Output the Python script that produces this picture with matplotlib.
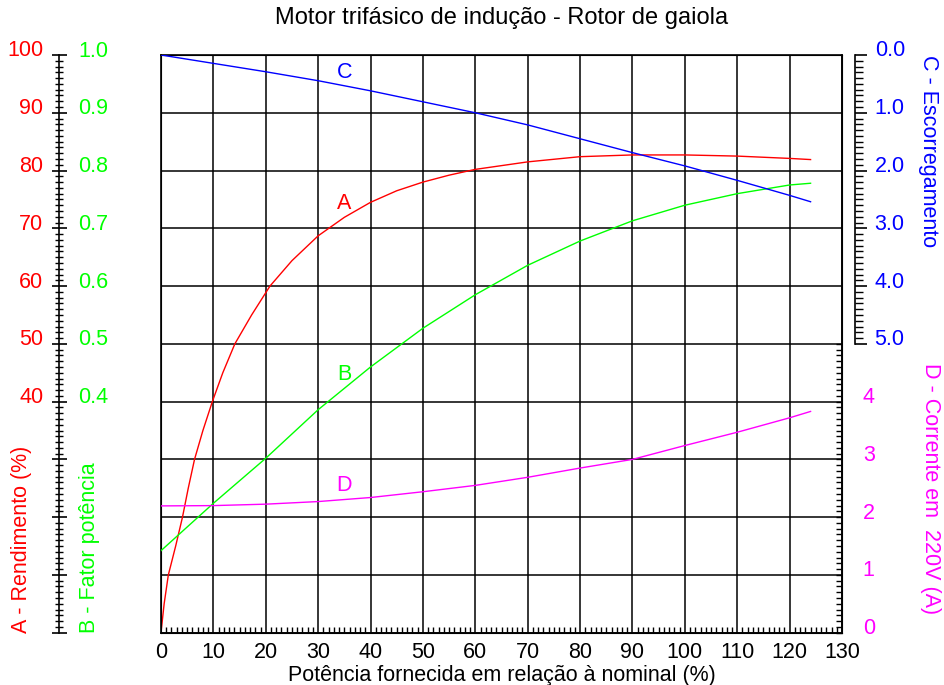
import matplotlib
matplotlib.use('Agg')
import matplotlib.pyplot as plt
from matplotlib.ticker import MultipleLocator, FormatStrFormatter
from matplotlib.transforms import ScaledTranslation

plt.rcParams['font.family'] = ['Liberation Sans', 'DejaVu Sans']

# curve A - efficiency (%)
pot_a = [0, 0.6, 1.4, 2.8, 4.1, 5.2, 6.4, 8.0, 9.8, 11.8, 14.1, 17.3, 20.8,
         25, 30, 35, 40, 45, 50, 55, 60, 70, 80, 90, 100, 110, 120, 124]
rendimento = [0, 5, 10, 15, 20, 25, 30, 35, 40, 45, 50, 55, 60, 64.4, 68.7,
              71.9, 74.5, 76.5, 78, 79.2, 80.2, 81.5, 82.4, 82.7, 82.7, 82.5,
              82.1, 81.9]

# curves B, C, D share the same abscissa
pot = [0, 10, 20, 30, 40, 50, 60, 70, 80, 90, 100, 110, 120, 124]
fator_pot = [0.142, 0.224, 0.302, 0.386, 0.46, 0.527, 0.585, 0.636, 0.678,
             0.713, 0.74, 0.76, 0.775, 0.778]
escorregamento = [0, 0.145, 0.29, 0.445, 0.62, 0.81, 1.0, 1.21, 1.45, 1.69,
                  1.92, 2.17, 2.43, 2.54]
corrente = [2.195, 2.2, 2.225, 2.27, 2.34, 2.44, 2.55, 2.69, 2.85, 3.0, 3.24,
            3.47, 3.72, 3.83]

x_ticks = list(range(0, 131, 10))
a_ticks = list(range(0, 101, 10))
a_labels = ['', '', '', '', '40', '50', '60', '70', '80', '90', '100']
b_ticks = [0.0, 0.1, 0.2, 0.3, 0.4, 0.5, 0.6, 0.7, 0.8, 0.9, 1.0]
b_labels = ['', '', '', '', '0.4', '0.5', '0.6', '0.7', '0.8', '0.9', '1.0']
c_ticks = [0, 1, 2, 3, 4, 5]
d_ticks = [0, 1, 2, 3, 4]

RED = '#ff0000'
GREEN = '#00ff00'
BLUE = '#0000ff'
MAG = '#ff00ff'
fs = 15.5
lw = 1.0

W_PX, H_PX = 944, 685
left, right, top, bottom = 161, 842, 55, 632.7
L = left / W_PX
B = (H_PX - bottom) / H_PX
W = (right - left) / W_PX
H = (bottom - top) / H_PX

fig = plt.figure(figsize=(W_PX / 100, H_PX / 100), dpi=100)


def lift_labels(axis, px):
    # tick labels in the original sit a few pixels above their ticks
    off = ScaledTranslation(0, px / 100, fig.dpi_scale_trans)
    for t in axis.get_major_ticks():
        t.label1.set_transform(t.label1.get_transform() + off)
        t.label2.set_transform(t.label2.get_transform() + off)


# main plot area with grid
ax = fig.add_axes([L, B, W, H])
ax.set_xlim(0, 130)
ax.set_ylim(0, 100)
ax.set_xticks(x_ticks)
ax.xaxis.set_minor_locator(MultipleLocator(1))
ax.set_yticks(a_ticks)
ax.tick_params(axis='x', which='major', direction='in', length=0, pad=7,
               labelsize=fs)
ax.tick_params(axis='x', which='minor', direction='in', length=4.5, width=1)
ax.tick_params(axis='y', which='both', length=0, labelleft=False)
ax.grid(True, color='black', linewidth=1.1)
for s in ax.spines.values():
    s.set_linewidth(1.2)
ax.set_xlabel('Potência fornecida em relação à nominal (%)', fontsize=fs,
              labelpad=1)
ax.plot(pot_a, rendimento, color=RED, linewidth=lw, zorder=5)
ax.text(35, 74.3, 'A', color=RED, fontsize=fs, ha='center', va='center')

# power factor curve on its own 0..1 scale over the plot
axBp = ax.twinx()
axBp.set_ylim(0, 1)
axBp.tick_params(axis='y', which='both', right=False, labelright=False)
axBp.plot(pot, fator_pot, color=GREEN, linewidth=lw, zorder=5)
axBp.text(35, 0.447, 'B', color=GREEN, fontsize=fs, ha='center',
          va='center')

# left scale: thin axes, A (red) ticks/labels left, B (green) right
axA = fig.add_axes([59 / W_PX, B, 0.0001, H])
axA.patch.set_visible(False)
axA.set_xticks([])
axA.set_ylim(0, 100)
axA.set_yticks(a_ticks, labels=a_labels)
axA.yaxis.set_minor_locator(MultipleLocator(1))
for s in ['top', 'bottom', 'right']:
    axA.spines[s].set_visible(False)
axA.spines['left'].set_linewidth(1.2)
axA.tick_params(axis='y', which='major', direction='out', length=5.4,
                width=1.2, pad=6, labelsize=fs, labelcolor=RED)
axA.tick_params(axis='y', which='minor', direction='out', length=2.6,
                width=1)

axB = axA.twinx()
axB.set_ylim(0, 1)
axB.set_yticks(b_ticks, labels=b_labels)
axB.yaxis.set_minor_locator(MultipleLocator(0.01))
for s in axB.spines.values():
    s.set_visible(False)
axB.tick_params(axis='y', which='major', direction='out', length=5.4,
                width=1.2, pad=8.3, labelsize=fs, labelcolor=GREEN)
axB.tick_params(axis='y', which='minor', direction='out', length=2.6,
                width=1)

# right top scale: C - slip
axC = fig.add_axes([L, B + H / 2, W, H / 2])
axC.patch.set_visible(False)
axC.set_xlim(0, 130)
axC.set_ylim(5, 0)
axC.set_xticks([])
axC.yaxis.tick_right()
axC.set_yticks(c_ticks)
axC.yaxis.set_minor_locator(MultipleLocator(0.1))
axC.yaxis.set_major_formatter(FormatStrFormatter('%.1f'))
for s in ['top', 'bottom', 'left']:
    axC.spines[s].set_visible(False)
axC.spines['right'].set_position(('outward', 9.4))
axC.spines['right'].set_linewidth(1.2)
axC.tick_params(axis='y', which='major', direction='out', length=8.6,
                width=1.2, pad=5.5, labelsize=fs, labelcolor=BLUE)
axC.tick_params(axis='y', which='minor', direction='out', length=5.5,
                width=1)
axC.plot(pot, escorregamento, color=BLUE, linewidth=lw, zorder=5)
axC.text(35, 0.3, 'C', color=BLUE, fontsize=fs, ha='center', va='center')

# right bottom scale: D - current
axD = fig.add_axes([L, B, W, H / 2])
axD.patch.set_visible(False)
axD.set_xlim(0, 130)
axD.set_ylim(0, 5)
axD.set_xticks([])
axD.yaxis.tick_right()
axD.set_yticks(d_ticks)
axD.yaxis.set_minor_locator(MultipleLocator(0.1))
for s in ['top', 'bottom', 'left', 'right']:
    axD.spines[s].set_visible(False)
axD.tick_params(axis='y', which='both', direction='in', length=4.5,
                width=1, pad=15, labelsize=fs, labelcolor=MAG)
axD.plot(pot, corrente, color=MAG, linewidth=lw, zorder=5)
axD.text(35, 2.55, 'D', color=MAG, fontsize=fs, ha='center', va='center')

for a in (axA.yaxis, axB.yaxis, axC.yaxis, axD.yaxis):
    lift_labels(a, 6.5)

# axis titles
fig.text(22 / W_PX, B, 'A - Rendimento (%)', color=RED, fontsize=fs,
         rotation=90, ha='center', va='bottom')
fig.text(90 / W_PX, B, 'B - Fator potência', color=GREEN, fontsize=fs,
         rotation=90, ha='center', va='bottom')
fig.text(928 / W_PX, (H_PX - top) / H_PX, 'C - Escorregamento', color=BLUE,
         fontsize=fs, rotation=270, ha='center', va='top')
fig.text(930 / W_PX, (H_PX - 363) / H_PX, 'D - Corrente em  220V (A)',
         color=MAG, fontsize=fs, rotation=270, ha='center', va='top')
fig.text((left + right) / 2 / W_PX, (H_PX - 18) / H_PX,
         'Motor trifásico de indução - Rotor de gaiola', fontsize=17,
         ha='center', va='center')

fig.savefig('out.png', dpi=100)
